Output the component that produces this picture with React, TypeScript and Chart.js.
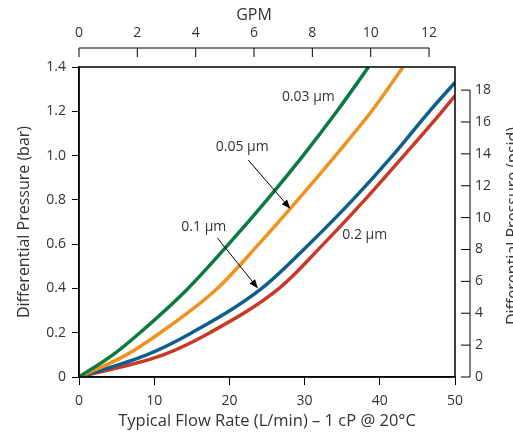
import React, { useEffect, useRef } from "react";
import { Chart, registerables } from "chart.js";

Chart.register(...registerables);

// Differential pressure levels (bar)
const dpLevels = [0, 0.1, 0.2, 0.4, 0.6, 0.8, 1.0, 1.2, 1.4];
const dpBlue = [0, 0.1, 0.2, 0.4, 0.6, 0.8, 1.0, 1.2, 1.33];
const dpRed = [0, 0.1, 0.2, 0.4, 0.6, 0.8, 1.0, 1.2, 1.27];

// Flow rate (L/min) at those pressures
const flow003 = [0, 4.5, 8.1, 14.5, 19.9, 25.0, 29.8, 34.3, 38.5];
const flow005 = [0, 6.3, 10.8, 18.4, 23.9, 29.1, 34.1, 38.9, 43.1];
const flow01 = [0, 9.0, 15.0, 24.3, 30.6, 36.4, 41.7, 46.6, 50];
const flow02 = [0, 11.2, 17.4, 26.6, 32.5, 38.0, 43.2, 48.3, 50];

const seriesNames = ["0.03 µm", "0.05 µm", "0.1 µm", "0.2 µm"];
const seriesColors = ["#0b7a3f", "#f0921f", "#0f5f8c", "#c73a27"];

const gpmTicks = [0, 2, 4, 6, 8, 10, 12];
const psiTicks = [0, 2, 4, 6, 8, 10, 12, 14, 16, 18];

// annotation label positions (L/min, bar)
const labelText = ["0.03 µm", "0.05 µm", "0.1 µm", "0.2 µm"];
const labelX = [30.5, 21.7, 16.6, 38.0];
const labelY = [1.265, 1.04, 0.677, 0.641];
// arrows: from (x, y) to (x, y)
const arrowFromX = [22.5, 18.4];
const arrowFromY = [0.98, 0.628];
const arrowToX = [28.1, 23.8];
const arrowToY = [0.76, 0.40];

const FONT = "'Open Sans', 'Noto Sans', sans-serif";
const TXT = "#333333";

const toPts = (xs: number[], ys: number[]) => xs.map((x, i) => ({ x, y: ys[i] }));

const overlay = {
  id: "overlay",
  afterDraw(chart: any) {
    const ctx = chart.ctx;
    const a = chart.chartArea;
    const sx = chart.scales.x;
    const sy = chart.scales.y;
    const gx = chart.scales.x2;
    const py = chart.scales.y2;
    ctx.save();
    // frame
    ctx.strokeStyle = "#000";
    ctx.lineWidth = 1.5;
    ctx.strokeRect(a.left, a.top, a.right - a.left, a.bottom - a.top);

    // top GPM axis
    const ty = a.top - 19;
    ctx.lineWidth = 1;
    ctx.beginPath();
    ctx.moveTo(gx.getPixelForValue(gpmTicks[0]), ty);
    ctx.lineTo(gx.getPixelForValue(gpmTicks[gpmTicks.length - 1]), ty);
    gpmTicks.forEach((t) => {
      const x = gx.getPixelForValue(t);
      ctx.moveTo(x, ty);
      ctx.lineTo(x, ty + 9);
    });
    ctx.stroke();
    ctx.fillStyle = TXT;
    ctx.font = `14px ${FONT}`;
    ctx.textAlign = "center";
    ctx.textBaseline = "middle";
    gpmTicks.forEach((t) => ctx.fillText(String(t), gx.getPixelForValue(t), ty - 15));
    ctx.font = `16px ${FONT}`;
    ctx.fillText("GPM", gx.getPixelForValue(6), ty - 33);

    // right psid axis
    const rx = a.right + 15;
    ctx.beginPath();
    ctx.moveTo(rx, py.getPixelForValue(psiTicks[0]));
    ctx.lineTo(rx, py.getPixelForValue(psiTicks[psiTicks.length - 1]));
    psiTicks.forEach((t) => {
      const y = py.getPixelForValue(t);
      ctx.moveTo(rx - 9, y);
      ctx.lineTo(rx, y);
    });
    ctx.stroke();
    ctx.font = `14px ${FONT}`;
    ctx.textAlign = "left";
    psiTicks.forEach((t) => ctx.fillText(String(t), rx + 5, py.getPixelForValue(t)));
    ctx.save();
    ctx.translate(a.right + 58, (a.top + a.bottom) / 2 + 4);
    ctx.rotate(-Math.PI / 2);
    ctx.textAlign = "center";
    ctx.font = `16px ${FONT}`;
    ctx.fillText("Differential Pressure (psid)", 0, 0);
    ctx.restore();

    // annotation labels
    ctx.font = `14px ${FONT}`;
    ctx.textAlign = "center";
    labelText.forEach((t, i) => {
      ctx.fillText(t, sx.getPixelForValue(labelX[i]), sy.getPixelForValue(labelY[i]));
    });
    // arrows
    ctx.lineWidth = 1;
    arrowFromX.forEach((fx, i) => {
      const x1 = sx.getPixelForValue(fx);
      const y1 = sy.getPixelForValue(arrowFromY[i]);
      const x2 = sx.getPixelForValue(arrowToX[i]);
      const y2 = sy.getPixelForValue(arrowToY[i]);
      const ang = Math.atan2(y2 - y1, x2 - x1);
      const L = 9, W = 3.5;
      ctx.beginPath();
      ctx.moveTo(x1, y1);
      ctx.lineTo(x2 - Math.cos(ang) * L, y2 - Math.sin(ang) * L);
      ctx.stroke();
      ctx.beginPath();
      ctx.moveTo(x2, y2);
      ctx.lineTo(x2 - Math.cos(ang) * L - Math.sin(ang) * W, y2 - Math.sin(ang) * L + Math.cos(ang) * W);
      ctx.lineTo(x2 - Math.cos(ang) * L + Math.sin(ang) * W, y2 - Math.sin(ang) * L - Math.cos(ang) * W);
      ctx.closePath();
      ctx.fillStyle = "#000";
      ctx.fill();
    });
    ctx.restore();
  },
};

export default function App() {
  const ref = useRef<HTMLCanvasElement | null>(null);
  useEffect(() => {
    if (!ref.current) return;
    const flows = [flow003, flow005, flow01, flow02];
    const dps = [dpLevels, dpLevels, dpBlue, dpRed];
    const chart = new Chart(ref.current, {
      type: "line",
      data: {
        datasets: flows.map((f, i) => ({
          label: seriesNames[i],
          data: toPts(f, dps[i]),
          borderColor: seriesColors[i],
          backgroundColor: seriesColors[i],
          borderWidth: 3.5,
          pointRadius: 0,
          cubicInterpolationMode: "monotone" as const,
          fill: false,
        })),
      },
      options: {
        responsive: false,
        animation: false,
        events: [],
        layout: { padding: { top: 67, right: 58, left: 0, bottom: 0 } },
        plugins: { legend: { display: false }, tooltip: { enabled: false } },
        scales: {
          x: {
            type: "linear",
            position: "bottom",
            min: 0,
            max: 50,
            ticks: { stepSize: 10, color: TXT, font: { family: FONT, size: 14 }, padding: 8, maxRotation: 0 },
            grid: { drawOnChartArea: false, drawTicks: true, tickLength: 8, color: "#000" },
            border: { display: true, color: "#000", width: 1.5 },
            title: {
              display: true,
              text: "Typical Flow Rate (L/min) – 1 cP @ 20°C",
              color: TXT,
              font: { family: FONT, size: 16.5 },
              padding: { top: 0, bottom: 3 },
            },
            afterFit: (s: any) => { s.height = 57; },
          },
          y: {
            type: "linear",
            position: "left",
            min: 0,
            max: 1.4,
            ticks: {
              stepSize: 0.2,
              color: TXT,
              font: { family: FONT, size: 14 },
              padding: 6,
              callback: (v: any) => (Number(v) === 0 ? "0" : Number(v).toFixed(1)),
            },
            grid: { drawOnChartArea: false, drawTicks: true, tickLength: 7, color: "#000" },
            border: { display: true, color: "#000", width: 1.5 },
            title: {
              display: true,
              text: "Differential Pressure (bar)",
              color: TXT,
              font: { family: FONT, size: 16 },
              padding: { top: 15, bottom: 0 },
            },
            afterFit: (s: any) => { s.width = 79; },
          },
          x2: { type: "linear", position: "top", axis: "x", display: false, min: 0, max: 12.89 },
          y2: { type: "linear", position: "right", axis: "y", display: false, min: 0, max: 19.45 },
        },
      },
      plugins: [overlay],
    });
    return () => chart.destroy();
  }, []);
  return (
    <div style={{ position: "fixed", left: 0, top: 0, width: 513, height: 434, background: "#fff", overflow: "hidden" }}>
      <canvas ref={ref} width={513} height={434} style={{ display: "block" }} />
    </div>
  );
}
